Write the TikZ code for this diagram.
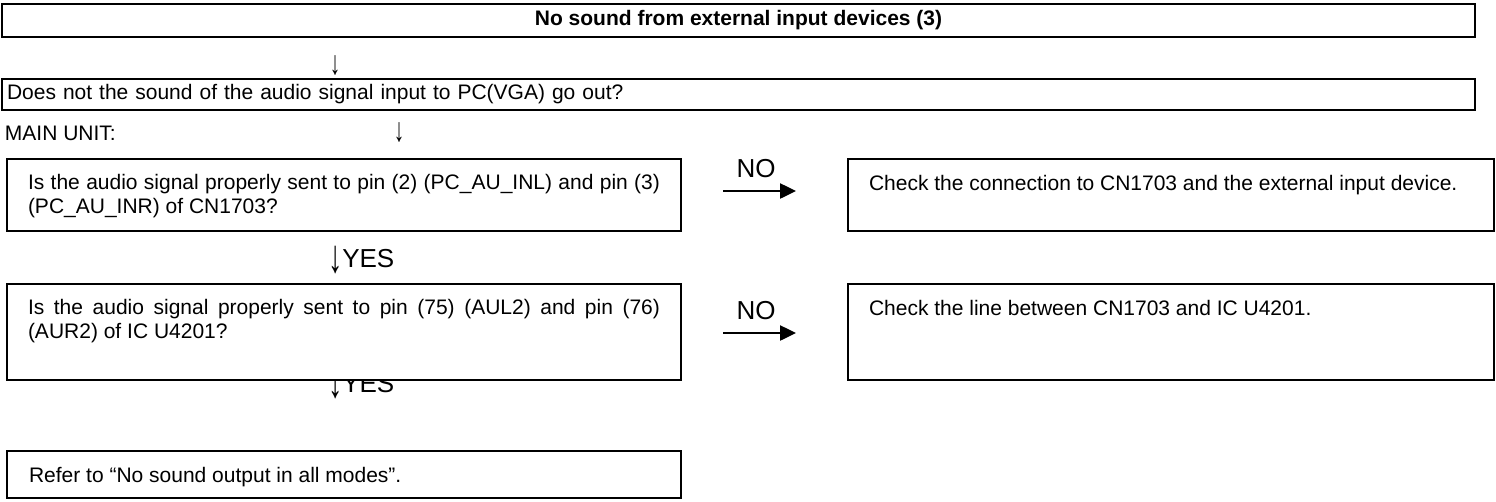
\documentclass[tikz,border=0pt]{standalone}
\usepackage{graphicx}
\usepackage{fontspec}
\setmainfont{Liberation Sans}
\usetikzlibrary{arrows.meta,calc}
\newcommand\downglyph[1]{\scalebox{1}[#1]{↓}}
\newcommand\yesglyph{\raisebox{-5pt}{\scalebox{1.1}[1.8]{↓}}YES}
\begin{document}
\begin{tikzpicture}[x=1pt,y=-1pt,
  every node/.style={inner sep=0pt, outer sep=0pt},
  txt/.style={font=\fontsize{21}{24}\selectfont},
  big/.style={font=\fontsize{26}{30}\selectfont},
  topbox/.style={draw, line width=2pt},
  flowbox/.style={draw, line width=1.3pt, fill=white},
  noarrow/.style={line width=2.5pt, -{Triangle[length=16pt,width=15pt]}},
]
\useasboundingbox (0,0) rectangle (1496,501);
% title
\node[topbox, anchor=north west, minimum width=1473pt, minimum height=33pt,
      font=\fontsize{21}{24}\selectfont\bfseries] (title) at (2,4)
      {No sound from external input devices (3)};
\node[txt] (a1) at (335,65.5) {\downglyph{1.6}};
% question 0
\node[topbox, anchor=north west, minimum width=1473pt, minimum height=31pt,
      inner xsep=5pt, text width=1463pt, align=left, txt] (q0) at (2,79)
      {Does not the sound of the audio signal input to PC(VGA) go out?};
\node[txt, anchor=base west] (mu) at (5,140) {MAIN UNIT:};
\node[txt] (a2) at (399,133) {\downglyph{1.6}};
% question 1
\node[flowbox, anchor=north west, minimum width=674pt, minimum height=72pt] (q1) at (7,159) {};
\node[txt, anchor=base west, text width=632pt, align=justify] (q1t) at (28,189)
  {Is the audio signal properly sent to pin (2) (PC\_AU\_INL) and pin (3)\linebreak (PC\_AU\_INR) of CN1703?};
\node[flowbox, anchor=north west, minimum width=646pt, minimum height=72pt] (r1) at (848,159) {};
\node[txt, anchor=base west] (r1t) at (869,190) {Check the connection to CN1703 and the external input device.};
\node[big, anchor=base] (no1) at (756,177) {NO};
\draw[noarrow, shorten <=42pt, shorten >=52pt] ([yshift=4pt]q1.east) -- ([yshift=4pt]r1.west);
\node[big, anchor=base west] (yes1) at (328,267) {\yesglyph};
% question 2 (the second YES is partly hidden by the box)
\node[big, anchor=base west] (yes2) at (328,392) {\yesglyph};
\node[flowbox, anchor=north west, minimum width=674pt, minimum height=96pt] (q2) at (7,284) {};
\node[txt, anchor=base west, text width=632pt, align=justify] (q2t) at (28,314)
  {Is the audio signal properly sent to pin (75) (AUL2) and pin (76)\linebreak (AUR2) of IC U4201?};
\node[flowbox, anchor=north west, minimum width=646pt, minimum height=96pt] (r2) at (848,284) {};
\node[txt, anchor=base west] (r2t) at (869,315) {Check the line between CN1703 and IC U4201.};
\node[big, anchor=base] (no2) at (756,319) {NO};
\draw[noarrow, shorten <=42pt, shorten >=52pt] ([yshift=-1pt]q2.east) -- ([yshift=-1pt]r2.west);
% end
\node[flowbox, anchor=north west, minimum width=674pt, minimum height=47pt] (q3) at (7,451) {};
\node[txt, anchor=base west] (q3t) at (29,482) {Refer to “No sound output in all modes”.};
\end{tikzpicture}
\end{document}
